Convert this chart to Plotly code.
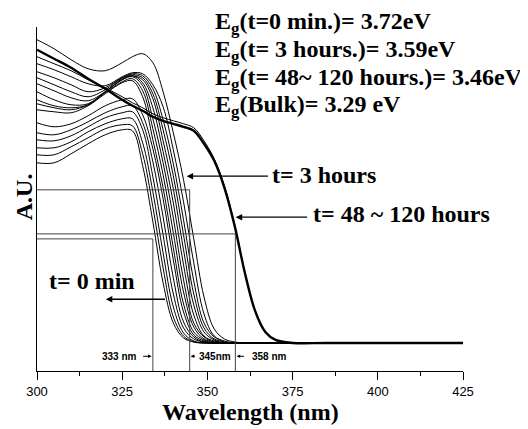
import plotly.graph_objects as go

# ---------------- data ----------------
wavelength_nm = [300, 305, 310, 315, 320, 325, 328, 331, 334, 337, 340, 343, 346,
                 349, 352, 355, 358, 361, 364, 367, 370, 375, 385, 400, 425]

BASE = [0.28]

abs_3h = [3.31, 3.22, 3.11, 3.02, 3.00, 3.08, 3.14, 3.17, 3.08, 2.79, 2.38, 1.91, 1.32,
          0.74, 0.42, 0.32, 0.29] + BASE * 8
abs_a1 = [3.07, 3.01, 2.94, 2.87, 2.85, 2.94, 2.98, 2.97, 2.86, 2.64, 2.21, 1.69, 1.08,
          0.57, 0.35, 0.30, 0.28] + BASE * 8
abs_a2 = [2.99, 2.93, 2.86, 2.79, 2.83, 2.93, 2.97, 2.95, 2.82, 2.51, 2.07, 1.51, 0.90,
          0.48, 0.34, 0.29, 0.28] + BASE * 8
abs_a3 = [2.93, 2.86, 2.79, 2.74, 2.81, 2.93, 2.96, 2.93, 2.77, 2.41, 1.95, 1.36, 0.77,
          0.43, 0.32, 0.29, 0.28] + BASE * 8
abs_a4 = [2.87, 2.80, 2.73, 2.70, 2.79, 2.92, 2.95, 2.91, 2.72, 2.30, 1.82, 1.21, 0.66,
          0.39, 0.31, 0.28, 0.28] + BASE * 8
abs_a5 = [2.79, 2.71, 2.66, 2.67, 2.79, 2.91, 2.95, 2.88, 2.63, 2.19, 1.68, 1.06, 0.56,
          0.35, 0.30, 0.28, 0.28] + BASE * 8
abs_a6 = [2.71, 2.65, 2.63, 2.66, 2.79, 2.91, 2.94, 2.85, 2.52, 2.08, 1.53, 0.91, 0.48,
          0.34, 0.29, 0.28] + BASE * 9
abs_a7 = [2.67, 2.63, 2.61, 2.66, 2.78, 2.89, 2.92, 2.80, 2.42, 1.96, 1.38, 0.79, 0.44,
          0.32, 0.29, 0.28] + BASE * 9
abs_a8 = [2.61, 2.59, 2.58, 2.65, 2.77, 2.88, 2.90, 2.74, 2.31, 1.83, 1.23, 0.67, 0.39,
          0.31, 0.28] + BASE * 10
abs_b1 = [2.48, 2.44, 2.47, 2.55, 2.65, 2.71, 2.72, 2.56, 2.22, 1.72, 1.11, 0.59, 0.36,
          0.30, 0.28] + BASE * 10
abs_b2 = [2.38, 2.36, 2.41, 2.49, 2.58, 2.64, 2.65, 2.48, 2.09, 1.54, 0.93, 0.49, 0.34,
          0.29, 0.28] + BASE * 10
abs_b3 = [2.31, 2.30, 2.35, 2.44, 2.53, 2.58, 2.59, 2.41, 1.94, 1.36, 0.77, 0.43, 0.32,
          0.29, 0.28] + BASE * 10
abs_b4 = [2.23, 2.23, 2.29, 2.39, 2.47, 2.52, 2.52, 2.28, 1.79, 1.18, 0.64, 0.38, 0.30,
          0.28, 0.28] + BASE * 10
abs_b5 = [2.16, 2.16, 2.24, 2.33, 2.42, 2.46, 2.45, 2.17, 1.64, 1.03, 0.54, 0.35, 0.29,
          0.28, 0.28] + BASE * 10
abs_0min = [2.08, 2.08, 2.17, 2.27, 2.36, 2.41, 2.40, 2.05, 1.49, 0.88, 0.48, 0.33, 0.29,
            0.28] + BASE * 11

abs_48_120h = [3.21, 3.12, 3.03, 2.92, 2.82, 2.71, 2.65, 2.60, 2.54, 2.50, 2.47, 2.44, 2.40,
               2.27, 2.10, 1.83, 1.45, 0.98, 0.60, 0.39, 0.31, 0.28, 0.28, 0.28, 0.28]
abs_48_120h_b = [3.14, 3.07, 3.00, 2.91, 2.83, 2.74, 2.68, 2.63, 2.57, 2.53, 2.50, 2.47, 2.43,
                 2.30, 2.12, 1.85, 1.46, 0.98, 0.60, 0.39, 0.31, 0.28, 0.28, 0.28, 0.28]

thin_curves = [abs_0min, abs_b5, abs_b4, abs_b3, abs_b2, abs_b1, abs_a8, abs_a7, abs_a6,
               abs_a5, abs_a4, abs_a3, abs_a2, abs_a1, abs_3h, abs_48_120h_b]

# band-edge construction lines
edge_wavelengths_nm = [334.0, 344.8, 358.2]
edge_levels = [1.32, 1.81, 1.37]
edge_labels = ["333 nm", "345nm", "358 nm"]

eg_labels = ["E<sub>g</sub>(t=0 min.)= 3.72eV",
             "E<sub>g</sub>(t= 3 hours.)= 3.59eV",
             "E<sub>g</sub>(t= 48~ 120 hours.)= 3.46eV",
             "E<sub>g</sub>(Bulk)= 3.29 eV"]

x_ticks = [300, 325, 350, 375, 400, 425]

# ---------------- figure ----------------
SERIF = "Liberation Serif, Times New Roman, serif"
SANS = "Liberation Sans, Arial, sans-serif"

fig = go.Figure()

for ys in thin_curves:
    fig.add_trace(go.Scatter(x=wavelength_nm, y=ys, mode="lines",
                             line=dict(color="black", width=1, shape="spline", smoothing=1.0),
                             hoverinfo="skip"))
fig.add_trace(go.Scatter(x=wavelength_nm, y=abs_48_120h, mode="lines",
                         line=dict(color="black", width=2.4, shape="spline", smoothing=1.0),
                         hoverinfo="skip"))

for xe, ye in zip(edge_wavelengths_nm, edge_levels):
    fig.add_trace(go.Scatter(x=[300, xe, xe], y=[ye, ye, 0], mode="lines",
                             line=dict(color="#444444", width=1), hoverinfo="skip"))

big = dict(family=SERIF, size=24, color="black", weight="bold")

annotations = []
eg_y = [1.013, 0.931, 0.849, 0.769]
for txt, yy in zip(eg_labels, eg_y):
    annotations.append(dict(xref="paper", yref="paper", x=0.4127, y=yy, xanchor="left",
                            yanchor="middle", text=txt, showarrow=False, font=big))

# curve labels
annotations += [
    dict(xref="x", yref="y", x=368.5, y=1.96, xanchor="left", yanchor="middle",
         text="t= 3 hours", showarrow=False, font=big),
    dict(xref="x", yref="y", x=380.3, y=1.567, xanchor="left", yanchor="middle",
         text="t= 48 ~ 120 hours", showarrow=False, font=big),
    dict(xref="x", yref="y", x=302.8, y=0.897, xanchor="left", yanchor="middle",
         text="t= 0 min", showarrow=False, font=big),
]

# arrows (head x,y ; tail ax,ay)
arrows = [(343.9, 1.947, 368.2, 1.947, 1.3, 1.0),
          (358.3, 1.537, 379.7, 1.537, 1.3, 1.0),
          (320.2, 0.717, 338.0, 0.717, 1.3, 1.0),
          (333.6, 0.147, 330.7, 0.147, 1.0, 0.7),
          (345.1, 0.147, 346.8, 0.147, 1.0, 0.7),
          (358.6, 0.147, 361.2, 0.147, 1.0, 0.7)]
for hx, hy, tx, ty, w, s in arrows:
    annotations.append(dict(xref="x", yref="y", x=hx, y=hy, axref="x", ayref="y",
                            ax=tx, ay=ty, text="", showarrow=True, arrowhead=2,
                            arrowsize=s, arrowwidth=w, arrowcolor="black"))

small = dict(family=SANS, size=10, color="black", weight="bold")
annotations += [
    dict(xref="x", yref="y", x=329.8, y=0.147, xanchor="right", yanchor="middle",
         text=edge_labels[0], showarrow=False, font=small),
    dict(xref="x", yref="y", x=347.0, y=0.147, xanchor="left", yanchor="middle",
         text=edge_labels[1], showarrow=False, font=small),
    dict(xref="x", yref="y", x=362.4, y=0.147, xanchor="left", yanchor="middle",
         text=edge_labels[2], showarrow=False, font=small),
]

# axis titles
annotations += [
    dict(xref="paper", yref="paper", x=0.5, y=-0.12, xanchor="center", yanchor="middle",
         text="Wavelength (nm)", showarrow=False, font=big),
    dict(xref="paper", yref="paper", x=-0.0305, y=0.505, xanchor="center", yanchor="middle",
         text="A.U.", textangle=-90, showarrow=False, font=big),
]

# page body has an 8px default margin, so the figure is drawn 8px smaller and shifted
fig.update_layout(
    width=520, height=421,
    margin=dict(l=29, r=64.5, t=19, b=58.3, pad=0, autoexpand=False),
    paper_bgcolor="white", plot_bgcolor="white",
    showlegend=False,
    annotations=annotations,
    xaxis=dict(range=[300, 425], tickvals=x_ticks, ticktext=[str(v) for v in x_ticks],
               ticks="outside", ticklen=8, tickwidth=1.2, tickcolor="black",
               showline=True, linecolor="black", linewidth=1.2, mirror=False,
               showgrid=False, zeroline=False,
               tickfont=dict(family=SANS, size=13, color="black"),
               minor=dict(ticks="outside", ticklen=4, tickwidth=1.2, tickcolor="black",
                          dtick=12.5, tick0=300, showgrid=False)),
    yaxis=dict(range=[0, 3.437], showline=True, linecolor="black", linewidth=1.2,
               ticks="", showticklabels=False, showgrid=False, zeroline=False),
)

fig.write_html("out.html")
